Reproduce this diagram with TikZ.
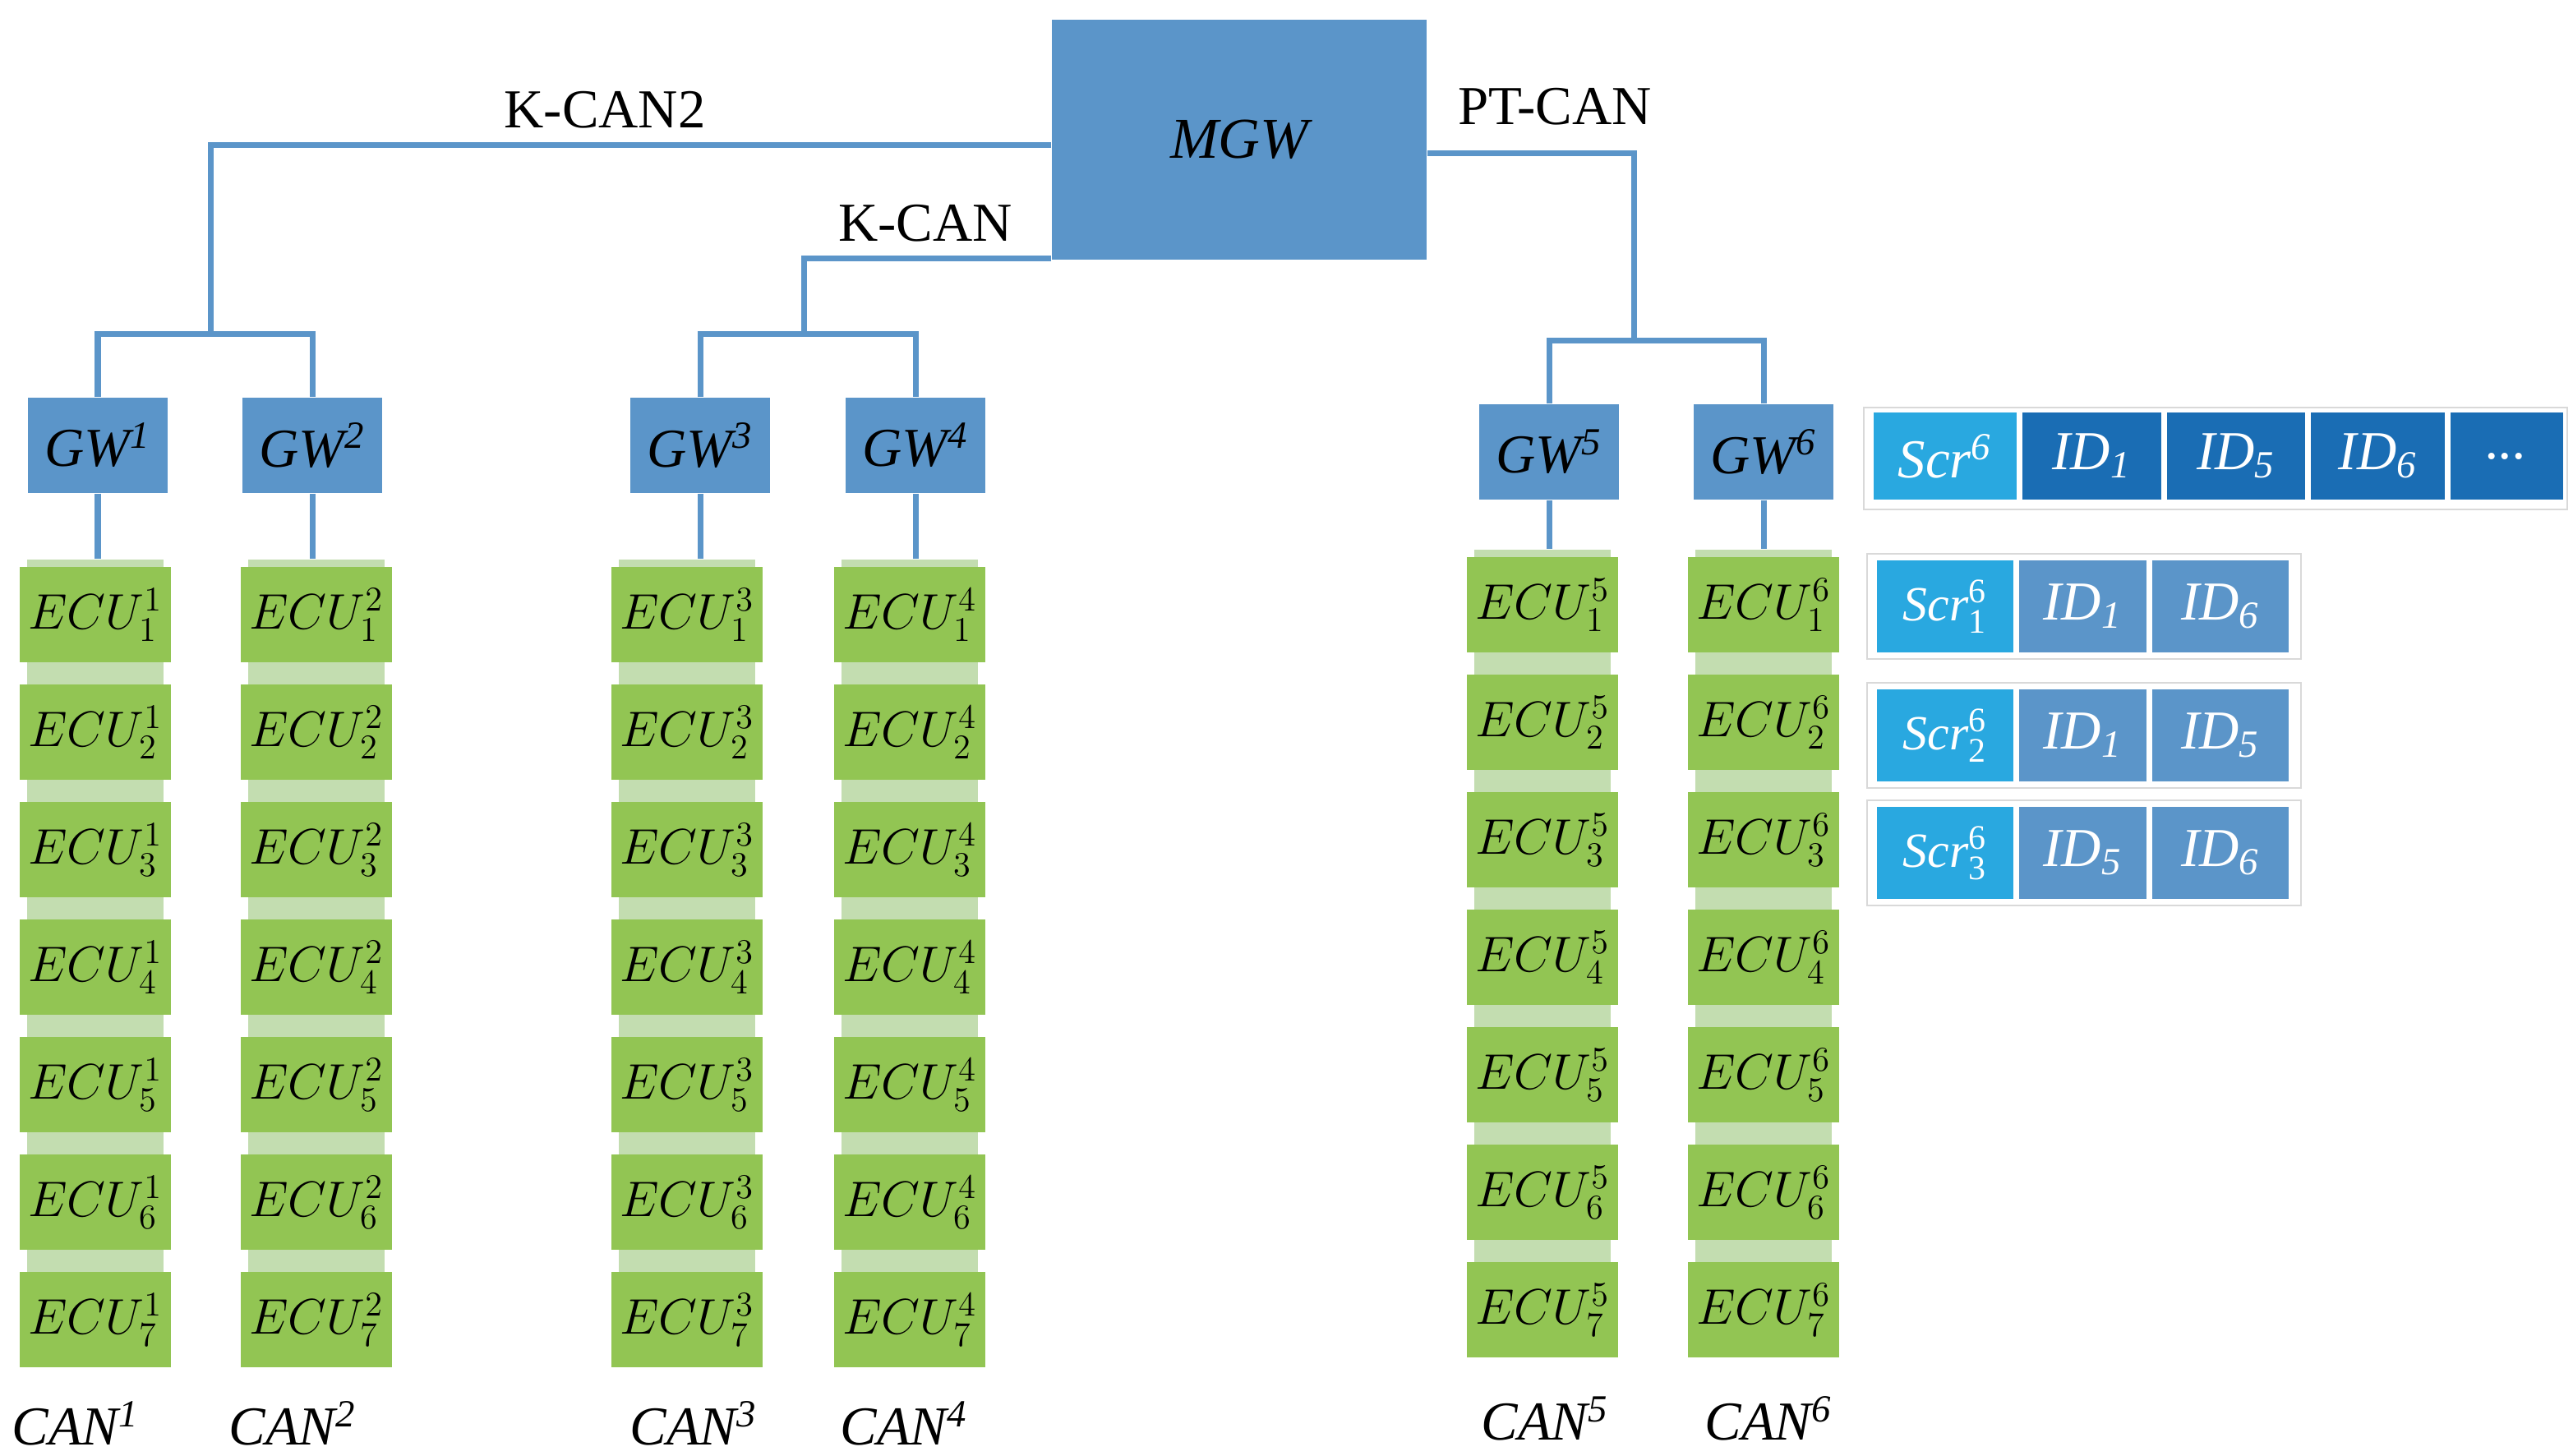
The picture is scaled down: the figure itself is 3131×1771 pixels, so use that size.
\documentclass[tikz,border=0pt]{standalone}
\usepackage{fontspec}
\setmainfont{Liberation Serif}[ItalicFont={Liberation Serif Italic},BoldFont={Liberation Serif Bold}]
\begin{document}
\definecolor{bl}{HTML}{5B95C9}
\definecolor{cy}{HTML}{29A8E0}
\definecolor{dk}{HTML}{1A6DB4}
\definecolor{gr}{HTML}{92C553}
\definecolor{lg}{HTML}{C3DDB0}
\begin{tikzpicture}[x=0.01cm,y=-0.01cm,
  gw/.style={fill=bl,draw=none,minimum width=1.70cm,minimum height=1.16cm,inner sep=0,font=\fontsize{19}{22}\selectfont\itshape},
  ecu/.style={fill=gr,draw=none,minimum width=1.84cm,minimum height=1.16cm,inner sep=0,font=\fontsize{18}{20}\selectfont},
  strip/.style={fill=lg,draw=none,minimum width=1.66cm,inner sep=0},
  bus/.style={draw=bl,line width=0.07cm},
  lab/.style={font=\fontsize{19}{22}\selectfont},
  can/.style={font=\fontsize{19}{22}\selectfont\itshape},
  cell/.style={draw=white,line width=1pt,minimum height=1.1cm,inner sep=0,text=white,font=\fontsize{19}{22}\selectfont\itshape},
  rowbox/.style={draw=black!15,line width=0.6pt}]
\useasboundingbox (0,0) rectangle (3131,1771);
% MGW
\node[fill=bl,minimum width=4.56cm,minimum height=2.92cm,inner sep=0,font=\fontsize{20}{24}\selectfont\itshape] (mgw) at (1508,170) {MGW};
% gateways
\node[gw] (gw1) at (119,542) {GW\textsuperscript{1}};
\node[gw] (gw2) at (380,542) {GW\textsuperscript{2}};
\node[gw] (gw3) at (852,542) {GW\textsuperscript{3}};
\node[gw] (gw4) at (1114,542) {GW\textsuperscript{4}};
\node[gw] (gw5) at (1885,550) {GW\textsuperscript{5}};
\node[gw] (gw6) at (2146,550) {GW\textsuperscript{6}};
% ECU columns
\foreach \c/\x/\y in {1/116/748,2/385/748,3/836/748,4/1107/748,5/1877/736,6/2146/736}{
  \node[strip,minimum height=9.8cm,anchor=north] (s\c) at (\x,\y-68) {};
  \foreach \r in {1,...,7}{
    \node[ecu] (e\c\r) at (\x,\y+143*\r-143) {$ECU^{\c}_{\r}$};
  }
}
% buses
\coordinate (k2) at (256,176);
\coordinate (b1) at (256,406);
\coordinate (k1) at (978,314);
\coordinate (b2) at (978,406);
\coordinate (pt) at (1988,186);
\coordinate (b3) at (1988,414);
\draw[bus] (mgw.west |- k2) -| (b1);
\draw[bus] (gw1.north) |- (b1) -| (gw2.north);
\draw[bus] (mgw.west |- k1) -| (b2);
\draw[bus] (gw3.north) |- (b2) -| (gw4.north);
\draw[bus] (mgw.east |- pt) -| (b3);
\draw[bus] (gw5.north) |- (b3) -| (gw6.north);
\foreach \c in {1,...,6}{\draw[bus] (gw\c.south) -- (gw\c.south |- s\c.north);}
% bus labels
\node[lab] (lk2) at (736,134) {K-CAN2};
\node[lab] (lk1) at (1126,272) {K-CAN};
\node[lab] (lpt) at (1892,130) {PT-CAN};
% CAN labels
\node[can] (c1) at (92,1732) {CAN\textsuperscript{1}};
\node[can] (c2) at (356,1732) {CAN\textsuperscript{2}};
\node[can] (c3) at (844,1732) {CAN\textsuperscript{3}};
\node[can] (c4) at (1100,1732) {CAN\textsuperscript{4}};
\node[can] (c5) at (1880,1726) {CAN\textsuperscript{5}};
\node[can] (c6) at (2152,1726) {CAN\textsuperscript{6}};
% table row 1
\draw[rowbox] (2268,496) rectangle (3124,620);
\node[cell,fill=cy,minimum width=1.78cm,anchor=west] (t1) at (2276,555) {Scr\textsuperscript{6}};
\node[cell,fill=dk,minimum width=1.72cm,anchor=west] (t2) at (t1.east) {ID\textsubscript{1}};
\node[cell,fill=dk,minimum width=1.72cm,anchor=west] (t3) at (t2.east) {ID\textsubscript{5}};
\node[cell,fill=dk,minimum width=1.66cm,anchor=west] (t4) at (t3.east) {ID\textsubscript{6}};
\node[cell,fill=dk,minimum width=1.40cm,anchor=west] (t5) at (t4.east) {...};
% rows 2-4
\foreach \n/\y/\a/\b in {1/738/1/6,2/895/1/5,3/1038/5/6}{
  \draw[rowbox] (2272,\y-64) rectangle (2800,\y+64);
  \node[cell,fill=cy,minimum width=1.70cm,minimum height=1.16cm,anchor=west] (r\n a) at (2280,\y) {\fontsize{17}{20}\selectfont Scr$^{\mathrm{6}}_{\mathrm{\n}}$};
  \node[cell,fill=bl,minimum width=1.58cm,minimum height=1.16cm,anchor=west] (r\n b) at (r\n a.east) {ID\textsubscript{\a}};
  \node[cell,fill=bl,minimum width=1.70cm,minimum height=1.16cm,anchor=west] (r\n c) at (r\n b.east) {ID\textsubscript{\b}};
}
\end{tikzpicture}
\end{document}
